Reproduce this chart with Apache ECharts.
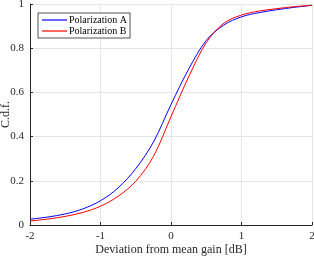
<!DOCTYPE html>
<html>
<head>
<meta charset="utf-8">
<script src="https://cdn.jsdelivr.net/npm/echarts@6/dist/echarts.min.js"></script>
<style>html,body{margin:0;padding:0;background:#fff}#c{width:314px;height:256px}</style>
</head>
<body>
<div id="c"></div>
<script>
var xs = [-2,-1.75,-1.5,-1.25,-1,-0.75,-0.5,-0.25,0,0.25,0.5,0.75,1,1.25,1.5,1.75,2];
var polA = [0.026,0.036,0.05,0.073,0.11,0.168,0.255,0.375,0.545,0.705,0.835,0.905,0.942,0.961,0.974,0.985,0.994];
var polB = [0.018,0.027,0.039,0.057,0.085,0.13,0.198,0.31,0.49,0.67,0.825,0.913,0.95,0.968,0.979,0.988,0.994];
var seriesNames = ['Polarization A','Polarization B'];
var xLabel = 'Deviation from mean gain [dB]';
var yLabel = 'C.d.f.';

var font = 'Liberation Serif';
function pairs(ys){ return xs.map(function(x,i){ return [x, ys[i]]; }); }
var chart = echarts.init(document.getElementById('c'), null, {renderer:'canvas'});
chart.setOption({
  animation:false,
  backgroundColor:'#fff',
  grid:{left:30,right:2,top:4,bottom:31,containLabel:false,outerBoundsMode:'none'},
  legend:{
    show:true, orient:'vertical', left:38, top:13,
    data:seriesNames.map(function(n){return {name:n, icon:'rect'};}),
    itemWidth:25, itemHeight:1.2, itemGap:1,
    backgroundColor:'#fff', borderColor:'#262626', borderWidth:0.8,
    padding:[2,3,2,4],
    textStyle:{fontFamily:font,fontSize:10,color:'#000',padding:[0,0,0,-3]}
  },
  xAxis:{
    type:'value', min:-2, max:2, interval:1,
    name:xLabel, nameLocation:'middle', nameGap:19, nameMoveOverlap:false,
    nameTextStyle:{fontFamily:font,fontSize:12,color:'#262626'},
    axisLine:{show:true,onZero:false,lineStyle:{color:'#262626',width:1}},
    axisTick:{show:true,inside:true,length:3,lineStyle:{color:'#262626'}},
    axisLabel:{fontFamily:font,fontSize:11,color:'#262626',margin:6},
    splitLine:{show:true,lineStyle:{color:'#e6e6e6',width:1}}
  },
  yAxis:{
    type:'value', min:0, max:1, interval:0.2,
    name:yLabel, nameLocation:'middle', nameGap:18, nameRotate:90, nameMoveOverlap:false,
    nameTextStyle:{fontFamily:font,fontSize:12,color:'#262626'},
    axisLine:{show:true,onZero:false,lineStyle:{color:'#262626',width:1}},
    axisTick:{show:true,inside:true,length:3,lineStyle:{color:'#262626'}},
    axisLabel:{fontFamily:font,fontSize:11,color:'#262626',margin:6},
    splitLine:{show:true,lineStyle:{color:'#e6e6e6',width:1}}
  },
  series:[
    {name:seriesNames[0],type:'line',data:pairs(polA),smooth:0.35,showSymbol:false,
     lineStyle:{color:'#0000ff',width:1},itemStyle:{color:'#0000ff'}},
    {name:seriesNames[1],type:'line',data:pairs(polB),smooth:0.35,showSymbol:false,
     lineStyle:{color:'#ff0000',width:1},itemStyle:{color:'#ff0000'}}
  ]
});
</script>
</body>
</html>
